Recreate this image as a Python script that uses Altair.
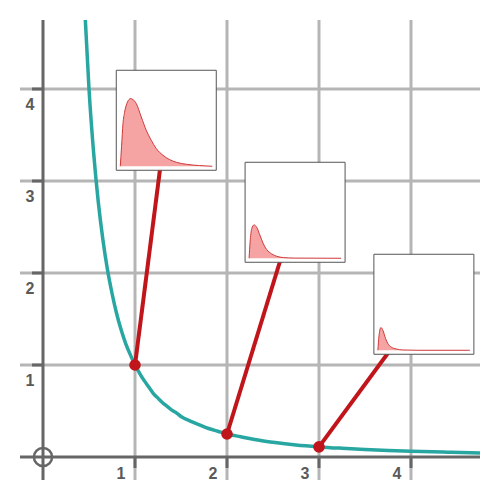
import altair as alt
import pandas as pd

# ---- data ----
grid_vals = [1, 2, 3, 4]
tick_labels = ["1", "2", "3", "4"]

curve_x = [0.45, 0.5, 0.55, 0.6, 0.65, 0.7, 0.75, 0.8, 0.85, 0.9, 0.95, 1.0, 1.05, 1.1, 1.15,
           1.2, 1.25, 1.3, 1.35, 1.4, 1.45, 1.5, 1.6, 1.7, 1.8, 1.9, 2.0, 2.15, 2.3, 2.5,
           2.75, 3.0, 3.25, 3.5, 3.75, 4.0, 4.4, 4.75]
curve_y = [4.94, 4.0, 3.31, 2.78, 2.37, 2.04, 1.78, 1.56, 1.38, 1.23, 1.11, 1.0, 0.91, 0.83, 0.76,
           0.69, 0.64, 0.59, 0.55, 0.51, 0.48, 0.44, 0.39, 0.35, 0.31, 0.28, 0.25, 0.22, 0.19, 0.16,
           0.13, 0.11, 0.095, 0.082, 0.071, 0.063, 0.052, 0.044]

point_x = [1, 2, 3]
point_y = [1.0, 0.25, 0.11]

# inset box centres (data units)
box_cx = [1.34, 2.74, 4.14]
box_cy = [3.66, 2.66, 1.66]

# inset curves: offset from curve start and height, in box units (box = 100)
inset1_dx = [0, 1.3, 2.7, 4.3, 6.7, 8.7, 10.3, 12.7, 16, 21, 26, 31, 36, 42.7, 49.3, 56, 66, 79.3, 92]
inset1_h = [0, 20, 42.7, 54, 63, 66.7, 67.7, 66.7, 62.7, 49.3, 36, 26, 17.7, 11, 6.7, 4, 2, 0.7, 0]
inset2_dx = [0, 1, 2.6, 5, 7.6, 11, 14.3, 17.6, 22.6, 27.6, 34.3, 45, 92]
inset2_h = [0, 16, 29.4, 33.4, 31, 22.7, 14.4, 8.7, 4.4, 2, 0.7, 0.2, 0]
inset3_dx = [0, 1, 3, 5, 7.7, 10, 13.3, 18.3, 25, 40, 92]
inset3_h = [0, 13.3, 22.7, 20, 11.7, 6.7, 3.3, 1.3, 0.3, 0, 0]

# ---- layout ----
PX = 92.0            # pixels per data unit
DOM = [-0.25, 4.75]
HALF = 50 / PX       # half box side
MARGIN = 4 / PX

xs = alt.Scale(domain=DOM, nice=False, zero=False)
ys = alt.Scale(domain=DOM, nice=False, zero=False)

def X(f, **k):
    return alt.X(f, type="quantitative", scale=xs, axis=None, **k)

def Y(f, **k):
    return alt.Y(f, type="quantitative", scale=ys, axis=None, **k)

grid_df = pd.DataFrame({"v": grid_vals, "lab": tick_labels})
zero_df = pd.DataFrame({"v": [0]})

vgrid = alt.Chart(grid_df).mark_rule(color="#b5b5b5", strokeWidth=3).encode(x=X("v"))
hgrid = alt.Chart(grid_df).mark_rule(color="#b5b5b5", strokeWidth=3).encode(y=Y("v"))
vaxis = alt.Chart(zero_df).mark_rule(color="#666666", strokeWidth=3).encode(x=X("v"))
haxis = alt.Chart(zero_df).mark_rule(color="#666666", strokeWidth=3).encode(y=Y("v"))

ytick = alt.Chart(grid_df).transform_calculate(a="0", b=f"-{11/PX}").mark_rule(
    color="#666666", strokeWidth=3).encode(x=X("b"), x2="a:Q", y=Y("v"))
xtick = alt.Chart(grid_df).transform_calculate(a="0", b=f"-{11/PX}").mark_rule(
    color="#666666", strokeWidth=3).encode(y=Y("b"), y2="a:Q", x=X("v"))

ylab = alt.Chart(grid_df).transform_calculate(z="0").mark_text(
    font="Liberation Sans", fontWeight="bold", fontSize=16, color="#5a5a5a", dx=-13, dy=16
).encode(x=X("z"), y=Y("v"), text="lab:N")
xlab = alt.Chart(grid_df).transform_calculate(z="0").mark_text(
    font="Liberation Sans", fontWeight="bold", fontSize=16, color="#5a5a5a", dx=-14, dy=17
).encode(x=X("v"), y=Y("z"), text="lab:N")

origin = alt.Chart(zero_df).mark_point(shape="circle", size=330, filled=False,
                                       color="#666666", strokeWidth=2.5, opacity=1).encode(
    x=X("v"), y=Y("v"))

curve_df = pd.DataFrame({"x": curve_x, "y": curve_y})
curve = alt.Chart(curve_df).mark_line(color="#27a6a2", strokeWidth=3.5, clip=True,
                                      interpolate="monotone").encode(x=X("x"), y=Y("y"))

link_df = pd.DataFrame({"x": point_x, "y": point_y, "cx": box_cx, "cy": box_cy})
links = alt.Chart(link_df).mark_rule(color="#c0151b", strokeWidth=4).encode(
    x=X("x"), y=Y("y"), x2="cx:Q", y2="cy:Q")
points = alt.Chart(link_df).mark_circle(color="#c0151b", size=135, opacity=1).encode(
    x=X("x"), y=Y("y"))

box_df = pd.DataFrame({"cx": box_cx, "cy": box_cy})
boxes = alt.Chart(box_df).transform_calculate(
    x0=f"datum.cx - {HALF}", x1=f"datum.cx + {HALF}",
    y0=f"datum.cy - {HALF}", y1=f"datum.cy + {HALF}"
).mark_rect(fill="white", stroke="#555555", strokeWidth=1).encode(
    x=X("x0"), x2="x1:Q", y=Y("y0"), y2="y1:Q")

rows = []
for i, (dxs, hs) in enumerate([(inset1_dx, inset1_h), (inset2_dx, inset2_h), (inset3_dx, inset3_h)]):
    left = box_cx[i] - HALF + MARGIN
    base = box_cy[i] - HALF + MARGIN
    for d, h in zip(dxs, hs):
        rows.append({"inset": i, "x": left + d / PX, "y": base + h / PX, "b": base})
inset_df = pd.DataFrame(rows)

inset_area = alt.Chart(inset_df).mark_area(color="#f5a3a3", opacity=1, interpolate="monotone").encode(
    x=X("x"), y=Y("y"), y2="b:Q", detail="inset:N")
inset_line = alt.Chart(inset_df).mark_line(color="#cf3a3a", strokeWidth=1, interpolate="monotone").encode(
    x=X("x"), y=Y("y"), detail="inset:N")

chart = alt.layer(
    vgrid, hgrid, vaxis, haxis, ytick, xtick, ylab, xlab, origin,
    curve, links, points, boxes, inset_area, inset_line
).properties(width=460, height=460, padding=12, autosize="none", background="white"
).configure_view(strokeWidth=0)

chart.save("out.html", embed_options={"renderer": "svg", "actions": False})
